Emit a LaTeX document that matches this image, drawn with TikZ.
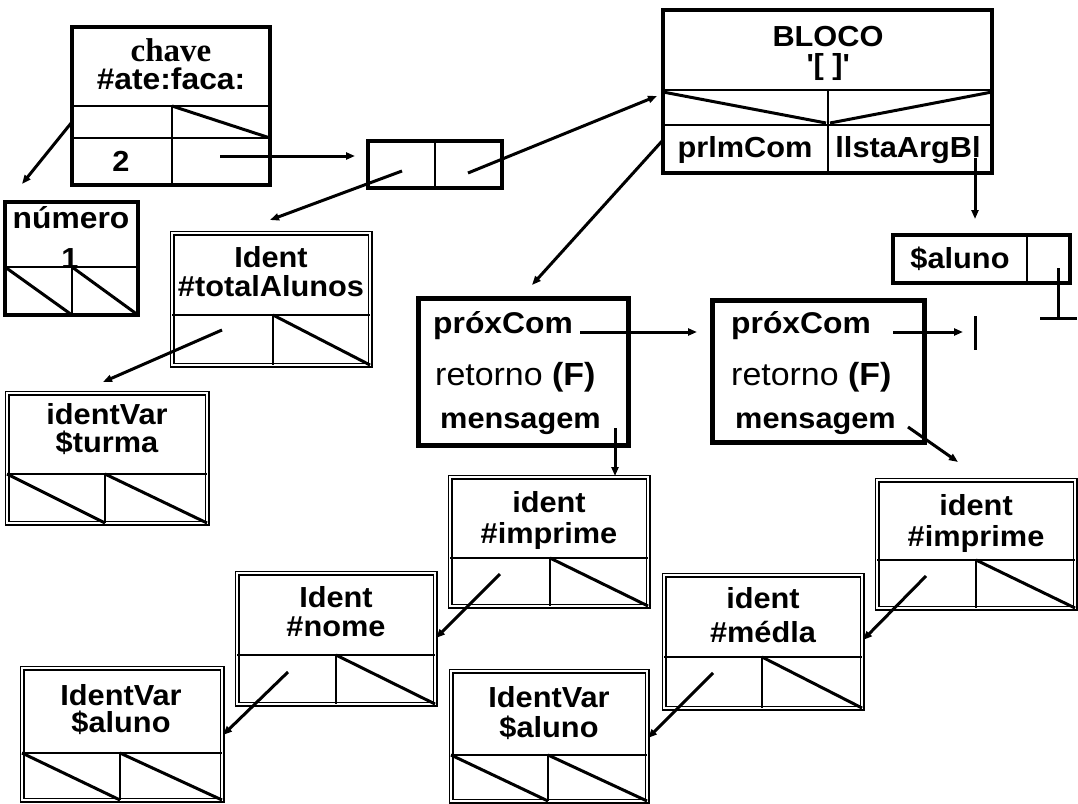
\documentclass[tikz,border=0pt]{standalone}
\usepackage{fontspec}
\setmainfont[FakeStretch=1.06]{Liberation Sans}
\newfontfamily\serifbold{Liberation Serif}
\usetikzlibrary{arrows.meta}
\newcommand\recbox[8]{%
  \node[#1,minimum width=#5pt,minimum height=#6pt] (#2) at (#3,#4) {};
  \draw[div] ([yshift=-#7pt]#2.north west) -- ([yshift=-#7pt]#2.north east);
  \draw[div] ([xshift=#8pt,yshift=-#7pt]#2.north west) -- ([xshift=#8pt]#2.south west);
}
\newcommand\cellR[3]{\draw[diag] ([xshift=#3pt,yshift=-#2pt]#1.north west) -- (#1.south east);}
\newcommand\cellL[3]{\draw[diag] ([yshift=-#2pt]#1.north west) -- ([xshift=#3pt]#1.south west);}
\newcommand\twol[5]{\node[tl,font=\fontsize{29}{#5}\selectfont\bfseries] (#1) at (#2,#3) {#4};}
\begin{document}
\lineskiplimit=-50pt
\lineskip=0pt
\begin{tikzpicture}[x=1pt,y=-1pt,
  sbox/.style={draw,line width=3.5pt,rectangle,inner sep=0pt,outer sep=0pt,anchor=north west},
  tbox/.style={draw,line width=5pt,rectangle,inner sep=0pt,outer sep=0pt,anchor=north west},
  dbox/.style={draw,line width=1.5pt,double,double distance=2pt,rectangle,inner sep=0pt,outer sep=0pt,anchor=north west},
  div/.style={line width=2.5pt},
  diag/.style={line width=3pt},
  con/.style={line width=3pt,-{Triangle[length=9pt,width=7pt]}},
  bar/.style={line width=3pt},
  lbl/.style={font=\fontsize{29}{34}\selectfont\bfseries,inner sep=0pt,anchor=base},
  tl/.style={inner sep=0pt,anchor=north,align=center},
  lft/.style={inner sep=0pt,anchor=base west},
]
\useasboundingbox (0,0) rectangle (1078,803);

% chave
\recbox{sbox}{chave}{72}{27}{198}{158}{79}{100}
\draw[div] ([yshift=-111pt]chave.north west) -- ([yshift=-111pt]chave.north east);
\draw[diag] ([xshift=100pt,yshift=-79pt]chave.north west) -- ([yshift=-111pt]chave.north east);
\node[lbl,font=\fontsize{33}{36}\selectfont\serifbold\bfseries] (tchave) at (171,61) {chave};
\node[lbl,font=\fontsize{30}{34}\selectfont\bfseries] (tate) at (171,89) {\#ate:faca:};
\node[lbl] (tdois) at (121,171) {2};

% numero
\recbox{sbox}{numero}{5}{202}{133}{113}{65}{67}
\cellL{numero}{65}{67}
\cellR{numero}{65}{67}
\node[lbl,font=\fontsize{30}{34}\selectfont\bfseries] (tnum) at (71,228) {número};
\node[lbl] (tum) at (70,268) {1};

% pair
\node[sbox,minimum width=134pt,minimum height=47pt] (pair) at (368,141) {};
\draw[div] ([xshift=67pt]pair.north west) -- ([xshift=67pt]pair.south west);

% BLOCO
\recbox{sbox}{bloco}{663}{10}{329}{163}{80}{165}
\draw[div] ([yshift=-115pt]bloco.north west) -- ([yshift=-115pt]bloco.north east);
\draw[diag] ([yshift=-82pt]bloco.north west) -- ([xshift=163pt,yshift=-113pt]bloco.north west);
\draw[diag] ([yshift=-82pt]bloco.north east) -- ([xshift=167pt,yshift=-113pt]bloco.north west);
\twol{tbloco}{828}{26}{BLOCO\\\textquotesingle[ ]\textquotesingle}{28}
\node[lbl] (tprim) at (745,157) {prlmCom};
\node[lbl] (tlista) at (908,157) {llstaArgBl};

% $aluno
\node[sbox,minimum width=177pt,minimum height=48pt] (aluno) at (893,235) {};
\draw[div] ([xshift=134pt]aluno.north west) -- ([xshift=134pt]aluno.south west);
\node[lbl] (taluno) at (960,268) {\$aluno};

% Ident totalAlunos
\recbox{dbox}{tot}{172}{233}{198}{132}{82}{101}
\cellR{tot}{82}{101}
\twol{ttot}{271}{246}{Ident\\\#totalAlunos}{29}

% identVar turma
\recbox{dbox}{turma}{7}{393}{200}{130}{81}{98}
\cellL{turma}{81}{98}
\cellR{turma}{81}{98}
\twol{ttur}{107}{403}{identVar\\\$turma}{28}

% proxCom boxes
\node[tbox,minimum width=210pt,minimum height=147pt] (px1) at (418,298) {};
\node[lft,font=\fontsize{30}{34}\selectfont\bfseries] (px1a) at (433,333) {próxCom};
\node[lft,font=\fontsize{32}{34}\selectfont] (px1b) at (435,385) {retorno \textbf{(F)}};
\node[lft,font=\fontsize{29}{34}\selectfont\bfseries] (px1c) at (440,428) {mensagem};

\node[tbox,minimum width=212pt,minimum height=142pt] (px2) at (712,300) {};
\node[lft,font=\fontsize{30}{34}\selectfont\bfseries] (px2a) at (731,333) {próxCom};
\node[lft,font=\fontsize{32}{34}\selectfont] (px2b) at (731,385) {retorno \textbf{(F)}};
\node[lft,font=\fontsize{29}{34}\selectfont\bfseries] (px2c) at (735,428) {mensagem};

% ident imprime 1
\recbox{dbox}{imp1}{450}{477}{198}{129}{81}{100}
\cellR{imp1}{81}{100}
\twol{timp1}{549}{491}{ident\\\#imprime}{31}

% ident imprime 2
\recbox{dbox}{imp2}{877}{480}{198}{128}{80}{99}
\cellR{imp2}{80}{99}
\twol{timp2}{976}{494}{ident\\\#imprime}{31}

% ident nome
\recbox{dbox}{nome}{237}{573}{198}{131}{82}{99}
\cellR{nome}{82}{99}
\twol{tnome}{336}{586}{Ident\\\#nome}{29}

% ident media
\recbox{dbox}{media}{664}{575}{198}{133}{82}{98}
\cellR{media}{82}{98}
\twol{tmed}{763}{587}{ident\\\#médla}{34}

% IdentVar aluno 1
\recbox{dbox}{av1}{22}{668}{200}{132}{85}{98}
\cellL{av1}{85}{98}
\cellR{av1}{85}{98}
\twol{tav1}{121}{684}{IdentVar\\\$aluno}{27}

% IdentVar aluno 2
\recbox{dbox}{av2}{451}{671}{196}{130}{84}{97}
\cellL{av2}{84}{97}
\cellR{av2}{84}{97}
\twol{tav2}{549}{686}{IdentVar\\\$aluno}{30}

% connector end points
\coordinate (c1s) at (220,156); \coordinate (c1e) at (355,156);
\coordinate (c2s) at (72,122);  \coordinate (c2e) at (22,184);
\coordinate (c3s) at (402,171); \coordinate (c3e) at (270,220);
\coordinate (c4s) at (468,173); \coordinate (c4e) at (657,96);
\coordinate (c5s) at (663,140); \coordinate (c5e) at (532,285);
\coordinate (c6s) at (975,158); \coordinate (c6e) at (975,219);
\coordinate (g1s) at (1058,268); \coordinate (g1e) at (1058,318);
\coordinate (g1l) at (1040,318); \coordinate (g1r) at (1077,318);
\coordinate (c8s) at (222,330); \coordinate (c8e) at (103,382);
\coordinate (c9s) at (580,332); \coordinate (c9e) at (697,332);
\coordinate (c10s) at (615,428); \coordinate (c10e) at (615,476);
\coordinate (c11s) at (893,332); \coordinate (c11e) at (963,332);
\coordinate (b2t) at (975,316); \coordinate (b2b) at (975,350);
\coordinate (c12s) at (908,427); \coordinate (c12e) at (958,462);
\coordinate (c13s) at (500,574); \coordinate (c13e) at (436,638);
\coordinate (c14s) at (926,576); \coordinate (c14e) at (863,640);
\coordinate (c15s) at (288,672); \coordinate (c15e) at (223,735);
\coordinate (c16s) at (713,673); \coordinate (c16e) at (648,738);

\draw[con] (c1s) -- (c1e);
\draw[con] (c2s) -- (c2e);
\draw[con] (c3s) -- (c3e);
\draw[con] (c4s) -- (c4e);
\draw[con] (c5s) -- (c5e);
\draw[con] (c6s) -- (c6e);
\draw[bar] (g1s) -- (g1e);
\draw[bar] (g1l) -- (g1r);
\draw[con] (c8s) -- (c8e);
\draw[con] (c9s) -- (c9e);
\draw[con] (c10s) -- (c10e);
\draw[con] (c11s) -- (c11e);
\draw[bar] (b2t) -- (b2b);
\draw[con] (c12s) -- (c12e);
\draw[con] (c13s) -- (c13e);
\draw[con] (c14s) -- (c14e);
\draw[con] (c15s) -- (c15e);
\draw[con] (c16s) -- (c16e);
\end{tikzpicture}
\end{document}
